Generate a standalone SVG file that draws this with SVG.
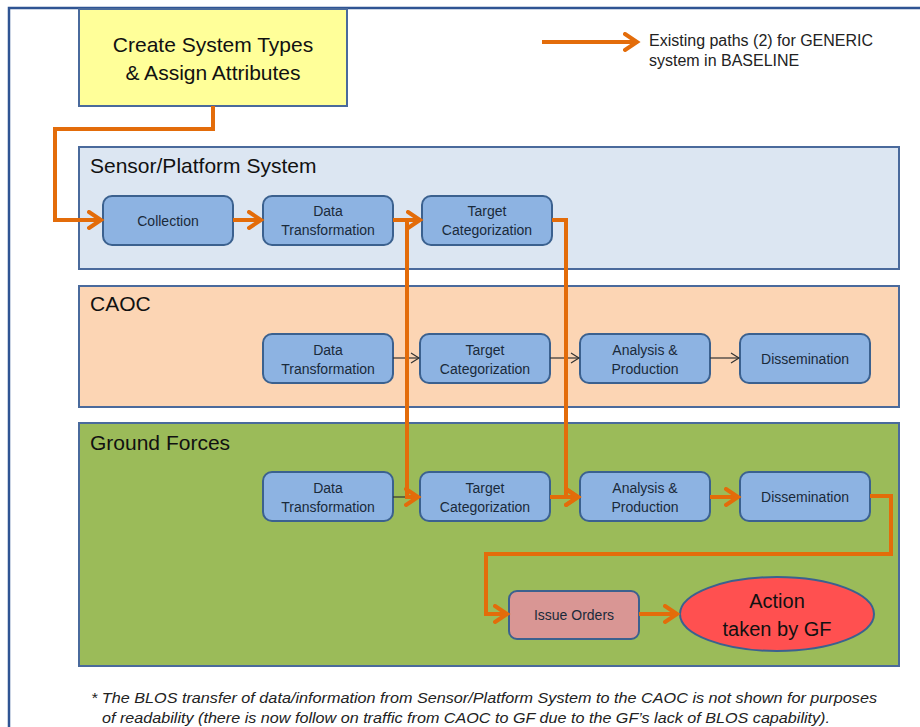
<svg xmlns="http://www.w3.org/2000/svg" width="920" height="727" viewBox="0 0 920 727">
<defs>
<style>
.panel{stroke:#4a6a9c;stroke-width:2}
.ptitle{font-family:"Liberation Sans",Arial,sans-serif;font-size:21px;fill:#111}
.node{fill:#8db3e2;stroke:#3b618f;stroke-width:2}
.nt{font-family:"Liberation Sans",Arial,sans-serif;font-size:14px;fill:#1a2a3a;text-anchor:middle}
.or{fill:none;stroke:#e36c0a;stroke-width:4;stroke-linejoin:miter}
.bk{fill:none;stroke:#333;stroke-width:1.2}
</style>
<marker id="oa" markerUnits="userSpaceOnUse" markerWidth="20" markerHeight="22" refX="14" refY="10" orient="auto" viewBox="0 0 20 22">
<path d="M2,2 L14,10 L2,18" fill="none" stroke="#e36c0a" stroke-width="4" stroke-linecap="round" stroke-linejoin="miter"/>
</marker>
<marker id="ba" markerUnits="userSpaceOnUse" markerWidth="12" markerHeight="12" refX="9" refY="6" orient="auto" viewBox="0 0 12 12">
<path d="M1,1 L9,6 L1,11" fill="none" stroke="#333" stroke-width="1.2"/>
</marker>
</defs>
<rect x="0" y="0" width="920" height="727" fill="#ffffff"/>
<rect x="9" y="8" width="1000" height="1000" fill="none" stroke="#2f5493" stroke-width="2.5"/>

<g id="panel-sensor">
<rect class="panel" x="79" y="147" width="820" height="122" fill="#dce6f2"/>
<text class="ptitle" x="90" y="173">Sensor/Platform System</text>
</g>
<g id="panel-caoc">
<rect class="panel" x="79" y="286" width="820" height="121" fill="#fcd5b4"/>
<text class="ptitle" x="90" y="311">CAOC</text>
</g>
<g id="panel-gf">
<rect class="panel" x="79" y="423" width="820" height="243" fill="#9bbb59"/>
<text class="ptitle" x="90" y="450">Ground Forces</text>
</g>

<g id="create-system-types">
<rect x="79" y="9" width="268" height="97" fill="#ffff99" stroke="#4a6a9c" stroke-width="2"/>
<text x="213" y="52" font-family="Liberation Sans,Arial,sans-serif" font-size="21" fill="#111" text-anchor="middle">Create System Types</text>
<text x="213" y="80" font-family="Liberation Sans,Arial,sans-serif" font-size="21" fill="#111" text-anchor="middle">&amp; Assign Attributes</text>
</g>

<g id="legend">
<line x1="542" y1="42" x2="637" y2="42" class="or" marker-end="url(#oa)"/>
<text x="649" y="46" font-family="Liberation Sans,Arial,sans-serif" font-size="16" fill="#222">Existing paths (2) for GENERIC</text>
<text x="649" y="66" font-family="Liberation Sans,Arial,sans-serif" font-size="16" fill="#222">system in BASELINE</text>
</g>

<g id="s-collection"><rect class="node" x="103" y="196" width="130" height="49" rx="9"/><text class="nt" x="168" y="226">Collection</text></g>
<g id="s-data-transformation"><rect class="node" x="263" y="196" width="130" height="49" rx="9"/><text class="nt" x="328" y="216">Data</text><text class="nt" x="328" y="235">Transformation</text></g>
<g id="s-target-categorization"><rect class="node" x="422" y="196" width="130" height="49" rx="9"/><text class="nt" x="487" y="216">Target</text><text class="nt" x="487" y="235">Categorization</text></g>

<g id="c-data-transformation"><rect class="node" x="263" y="334" width="130" height="49" rx="9"/><text class="nt" x="328" y="355">Data</text><text class="nt" x="328" y="374">Transformation</text></g>
<g id="c-target-categorization"><rect class="node" x="420" y="334" width="130" height="49" rx="9"/><text class="nt" x="485" y="355">Target</text><text class="nt" x="485" y="374">Categorization</text></g>
<g id="c-analysis-production"><rect class="node" x="580" y="334" width="130" height="49" rx="9"/><text class="nt" x="645" y="355">Analysis &amp;</text><text class="nt" x="645" y="374">Production</text></g>
<g id="c-dissemination"><rect class="node" x="740" y="334" width="130" height="49" rx="9"/><text class="nt" x="805" y="364">Dissemination</text></g>

<g id="g-data-transformation"><rect class="node" x="263" y="472" width="130" height="49" rx="9"/><text class="nt" x="328" y="493">Data</text><text class="nt" x="328" y="512">Transformation</text></g>
<g id="g-target-categorization"><rect class="node" x="420" y="472" width="130" height="49" rx="9"/><text class="nt" x="485" y="493">Target</text><text class="nt" x="485" y="512">Categorization</text></g>
<g id="g-analysis-production"><rect class="node" x="580" y="472" width="130" height="49" rx="9"/><text class="nt" x="645" y="493">Analysis &amp;</text><text class="nt" x="645" y="512">Production</text></g>
<g id="g-dissemination"><rect class="node" x="740" y="472" width="130" height="49" rx="9"/><text class="nt" x="805" y="502">Dissemination</text></g>

<g id="issue-orders"><rect x="509" y="591" width="130" height="48" rx="8" fill="#d99694" stroke="#3b618f" stroke-width="2"/><text class="nt" x="574" y="620" font-size="13.5">Issue Orders</text></g>
<g id="action-taken"><ellipse cx="777" cy="614" rx="97" ry="37" fill="#ff5050" stroke="#3b618f" stroke-width="2"/><text x="777" y="608" font-family="Liberation Sans,Arial,sans-serif" font-size="20" fill="#111" text-anchor="middle">Action</text><text x="777" y="636" font-family="Liberation Sans,Arial,sans-serif" font-size="20" fill="#111" text-anchor="middle">taken by GF</text></g>

<g id="connectors">
<line class="bk" x1="393" y1="358" x2="419" y2="358" marker-end="url(#ba)"/>
<line class="bk" x1="550" y1="358" x2="579" y2="358" marker-end="url(#ba)"/>
<line class="bk" x1="710" y1="358" x2="739" y2="358" marker-end="url(#ba)"/>
<line class="bk" x1="393" y1="497" x2="419" y2="497"/>
<path class="or" d="M213,106 V129 H55 V220 H101" marker-end="url(#oa)"/>
<path class="or" d="M233,220 H261" marker-end="url(#oa)"/>
<path class="or" d="M393,220 H420" marker-end="url(#oa)"/>
<path class="or" d="M393,220 H407 V497 H418" marker-end="url(#oa)"/>
<path class="or" d="M552,220 H566 V497 H578" marker-end="url(#oa)"/>
<path class="or" d="M550,497 H578" marker-end="url(#oa)"/>
<path class="or" d="M710,497 H738" marker-end="url(#oa)"/>
<path class="or" d="M870,496 H891 V554 H486 V614 H507" marker-end="url(#oa)"/>
<path class="or" d="M639,614 H677" marker-end="url(#oa)"/>
</g>

<g id="footnote" font-family="Liberation Sans,Arial,sans-serif" font-style="italic" font-size="15" fill="#222">
<text x="91" y="703" textLength="786" lengthAdjust="spacingAndGlyphs">* The BLOS transfer of data/information  from Sensor/Platform System to the CAOC is not shown for purposes</text>
<text x="102" y="723" textLength="728" lengthAdjust="spacingAndGlyphs">of readability (there is now follow on traffic from CAOC to GF due to the GF’s lack of BLOS capability).</text>
</g>
</svg>
